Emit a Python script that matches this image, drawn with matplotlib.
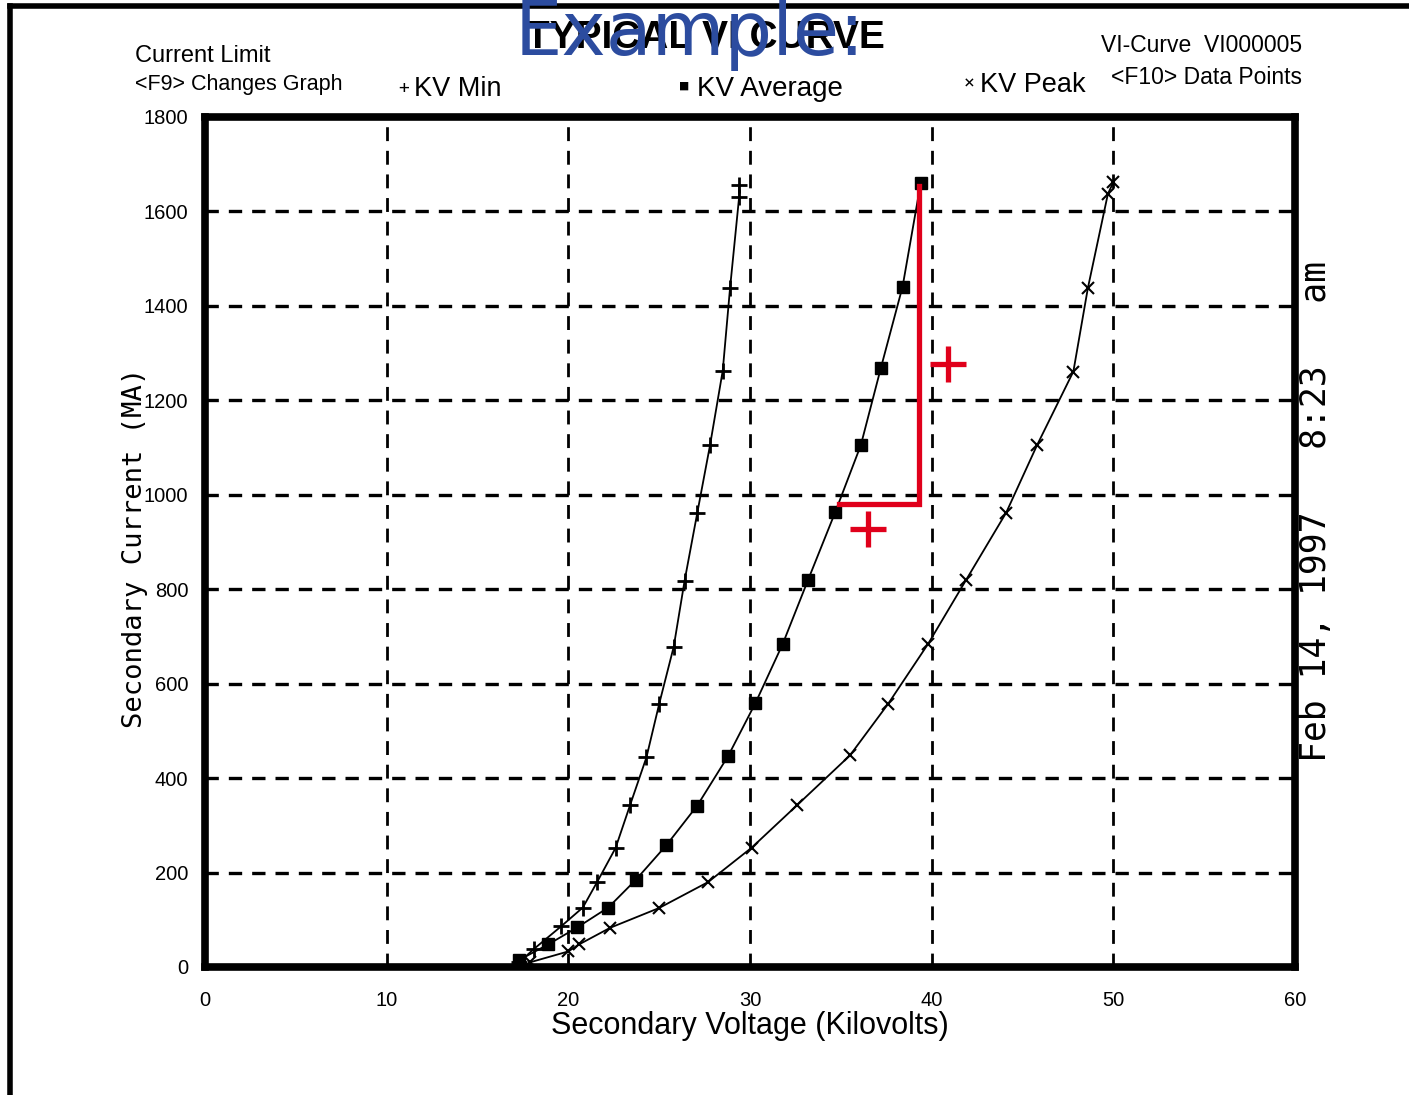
import matplotlib.pyplot as plt
from matplotlib.lines import Line2D

# KV Min curve (+)
kv_min_x = [17.3, 18.1, 19.6, 20.8, 21.6, 22.6, 23.4, 24.3, 25.0, 25.8, 26.4, 27.1, 27.8, 28.5, 28.9, 29.4, 29.4]
kv_min_y = [10, 38, 86, 126, 181, 252, 343, 444, 557, 678, 818, 962, 1105, 1263, 1437, 1630, 1655]
# KV Average curve (filled squares)
kv_avg_x = [17.3, 18.9, 20.5, 22.2, 23.7, 25.4, 27.1, 28.8, 30.3, 31.8, 33.2, 34.7, 36.1, 37.2, 38.4, 39.4]
kv_avg_y = [15, 48, 84, 126, 184, 258, 342, 447, 559, 684, 820, 964, 1105, 1268, 1441, 1661]
# KV Peak curve (x)
kv_peak_x = [17.9, 20.0, 20.6, 22.3, 25.0, 27.7, 30.1, 32.6, 35.5, 37.6, 39.8, 41.9, 44.1, 45.8, 47.8, 48.6, 49.7, 50.0]
kv_peak_y = [10, 33, 48, 83, 125, 180, 253, 343, 448, 557, 684, 820, 962, 1105, 1261, 1438, 1637, 1662]

# red hand-drawn annotation
red_line_x = [34.9, 39.3, 39.3]
red_line_y = [980, 980, 1654]
red_plus_x = [40.9, 36.5]
red_plus_y = [1277, 927]

x_ticks = [0, 10, 20, 30, 40, 50, 60]
y_ticks = [0, 200, 400, 600, 800, 1000, 1200, 1400, 1600, 1800]

W, H = 1409, 1095
narrow = ['Liberation Sans', 'DejaVu Sans']
mono = ['DejaVu Sans Mono']


def P(x, y):
    return x / W, 1 - y / H


fig = plt.figure(figsize=(W / 100, H / 100), dpi=100)
ax = fig.add_axes([205 / W, 1 - 967 / H, (1295 - 205) / W, (967 - 117) / H])

for v in x_ticks[1:-1]:
    ax.axvline(v, color='black', lw=2, ls=(0, (5, 3.5)), zorder=1)
for v in y_ticks[1:-1]:
    ax.axhline(v, color='black', lw=2.4, ls=(0, (4, 3)), zorder=1)

ax.plot(kv_min_x, kv_min_y, color='black', lw=1.3, marker='+', ms=11, mew=2, zorder=3)
ax.plot(kv_avg_x, kv_avg_y, color='black', lw=1.3, marker='s', ms=8, zorder=3)
ax.plot(kv_peak_x, kv_peak_y, color='black', lw=1.3, marker='x', ms=9, mew=1.5, zorder=3)

red = '#e0001b'
ax.plot(red_line_x, red_line_y, color=red, lw=3.8, solid_joinstyle='miter', zorder=4)
ax.plot(red_plus_x, red_plus_y, ls='none', marker='+', ms=26, mew=3.8, color=red, zorder=4)

ax.set_xlim(0, 60)
ax.set_ylim(0, 1800)
ax.set_xticks(x_ticks)
ax.set_yticks(y_ticks)
ax.tick_params(length=0, labelsize=14.5)
ax.tick_params(axis='x', pad=17)
ax.tick_params(axis='y', pad=12)
for lab in ax.get_xticklabels() + ax.get_yticklabels():
    lab.set_family(narrow)
for s in ax.spines.values():
    s.set_linewidth(5.5)

ax.set_xlabel('Secondary Voltage (Kilovolts)', fontsize=22, family=narrow, labelpad=1)
fig.text(*P(135, 548), 'Secondary Current (MA)', rotation=90, fontsize=19.5, family=mono,
         ha='center', va='center')
fig.text(*P(1316, 512), 'Feb 14, 1997   8:23   am', rotation=90, fontsize=25, family=mono,
         ha='center', va='center')

# header texts
fig.text(*P(135, 56), 'Current Limit', fontsize=17, family=narrow, va='center')
fig.text(*P(135, 85), '<F9> Changes Graph', fontsize=15.5, family=narrow, va='center')
fig.text(*P(398, 88), '+', fontsize=13, family=mono, va='center')
fig.text(*P(414, 89), 'KV Min', fontsize=19.5, family=narrow, va='center')
fig.text(*P(680, 86), '\u25a0', fontsize=10, family=mono, va='center')
fig.text(*P(697, 89), 'KV Average', fontsize=20, family=narrow, va='center')
fig.text(*P(964, 84), '\u00d7', fontsize=13, family=mono, va='center')
fig.text(*P(980, 85), 'KV Peak', fontsize=19.5, family=narrow, va='center')
fig.text(*P(1302, 45), 'VI-Curve  VI000005', fontsize=16.5, family=narrow, va='center', ha='right')
fig.text(*P(1302, 78), '<F10> Data Points', fontsize=16.5, family=narrow, va='center', ha='right')

fig.text(*P(705, 38), 'TYPICAL VI CURVE', fontsize=28, family=narrow, fontweight='bold',
         ha='center', va='center')
fig.text(*P(690, 55), 'Example:', fontsize=54, color='#2c4c9f', ha='center', va='baseline')

# scanned page border
fig.add_artist(Line2D([10 / W, 1], [1 - 6 / H, 1 - 6 / H], color='black', lw=4))
fig.add_artist(Line2D([10 / W, 10 / W], [0, 1 - 6 / H], color='black', lw=4))

fig.savefig('out.png', dpi=100)
